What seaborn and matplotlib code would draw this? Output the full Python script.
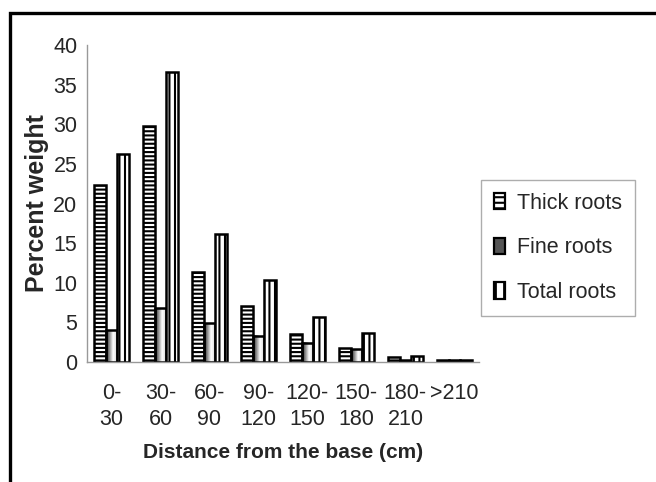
import numpy as np
import pandas as pd
import matplotlib
matplotlib.use("Agg")
import matplotlib.pyplot as plt
import seaborn as sns
from matplotlib.patches import Rectangle

# values (percent weight)
categories = ['0-\n30', '30-\n60', '60-\n90', '90-\n120', '120-\n150', '150-\n180', '180-\n210', '>210']
thick_roots = [22.4, 29.8, 11.4, 7.1, 3.5, 1.8, 0.6, 0.2]
fine_roots = [4.0, 6.8, 4.9, 3.3, 2.4, 1.6, 0.2, 0.2]
total_roots = [26.3, 36.6, 16.2, 10.4, 5.7, 3.7, 0.8, 0.2]
series = ['Thick roots', 'Fine roots', 'Total roots']

df = pd.DataFrame({
    'distance': categories * 3,
    'root': [s for s in series for _ in categories],
    'weight': thick_roots + fine_roots + total_roots,
})

sns.set_style('white')
plt.rcParams['font.family'] = ['Liberation Sans', 'DejaVu Sans']
plt.rcParams['hatch.linewidth'] = 1.5
plt.rcParams['hatch.color'] = 'black'

fig = plt.figure(figsize=(6.56, 4.82), dpi=100)
ax = fig.add_axes([0.1326, 0.249, 0.5974, 0.6575])

sns.barplot(data=df, x='distance', y='weight', hue='root', order=categories,
            hue_order=series, palette=['white', 'white', 'white'],
            width=0.72, edgecolor='black', linewidth=1.8, ax=ax, legend=False)

hatches = ['----', '', '|||']
for cont, h in zip(ax.containers, hatches):
    for p in cont:
        p.set_hatch(h)

# gradient fill for fine roots (dark left edge fading to white)
grad = np.interp(np.linspace(0, 1, 64), [0, 0.15, 0.6, 1], [0.0, 0.35, 1.0, 0.8]).reshape(1, -1)
for p in ax.containers[1]:
    p.set_facecolor('none')
    x0, y0 = p.get_x(), p.get_y()
    w, hgt = p.get_width(), p.get_height()
    im = ax.imshow(grad, extent=[x0, x0 + w, y0, y0 + hgt], cmap='gray',
                   vmin=0, vmax=1, aspect='auto', zorder=0.9,
                   interpolation='bilinear')
ax.set_xlim(-0.5, len(categories) - 0.5)
ax.set_ylim(0, 40)
ax.set_aspect('auto')

ax.set_yticks(range(0, 41, 5))
ax.set_xticks(range(len(categories)))
ax.set_xticklabels(categories, linespacing=1.35)
ax.set_xticks(np.arange(-0.5, len(categories), 1), minor=True)
ax.tick_params(axis='x', which='major', length=0, pad=15, labelsize=15.5)
ax.tick_params(axis='x', which='minor', length=5, color='#999999', width=1, direction='out')
ax.tick_params(axis='y', length=4, color='#999999', width=1, direction='out', labelsize=15.5, pad=3)

for s in ['top', 'right']:
    ax.spines[s].set_visible(False)
for s in ['left', 'bottom']:
    ax.spines[s].set_color('#999999')
    ax.spines[s].set_linewidth(1)

ax.set_xlabel('Distance from the base (cm)', fontsize=15, fontweight='bold', labelpad=9)
ax.set_ylabel('Percent weight', fontsize=18, fontweight='bold', labelpad=3)

handles = []
for h, name in zip(hatches, series):
    fc = '#555555' if name == 'Fine roots' else 'white'
    handles.append(Rectangle((0, 0), 1, 1, facecolor=fc, edgecolor='black',
                             hatch=h.replace('----', '---').replace('|||', '||'), linewidth=1.6))
leg = fig.legend(handles, series, loc='upper left', bbox_to_anchor=(0.733, 0.627),
                 bbox_transform=fig.transFigure, fontsize=15.5, frameon=True,
                 fancybox=False, edgecolor='#999999', handlelength=0.5, handleheight=0.8,
                 handletextpad=0.6, labelspacing=1.1, borderpad=0.6, borderaxespad=0)
leg.get_frame().set_linewidth(1)

# outer frame of the figure
fig.patches.append(Rectangle((10 / 656, -0.2), 1.2, 1.2 - 13 / 482,
                             transform=fig.transFigure, fill=False,
                             edgecolor='black', linewidth=2.4))

fig.savefig('out.png', dpi=100)
